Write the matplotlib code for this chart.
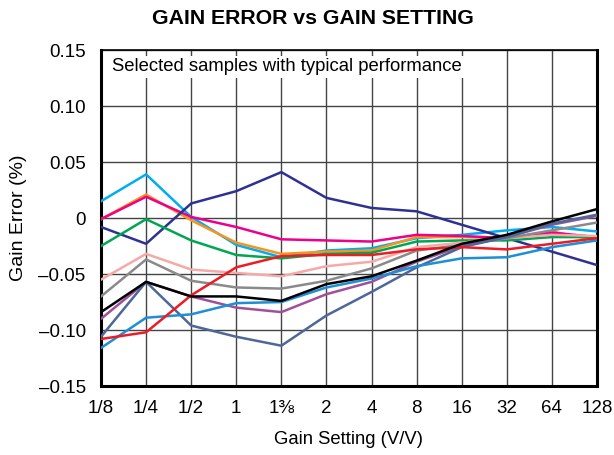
import matplotlib.pyplot as plt
import numpy as np

gains = ['1/8', '1/4', '1/2', '1', '1⅜', '2', '4', '8', '16', '32', '64', '128']

# gain error (%) per sample, one value per gain setting
cyan = [0.015, 0.039, 0.001, -0.024, -0.035, -0.029, -0.027, -0.018, -0.015, -0.011, -0.008, -0.012]
orange = [-0.001, 0.021, -0.002, -0.022, -0.032, -0.030, -0.029, -0.017, -0.017, -0.018, -0.012, -0.020]
magenta = [-0.001, 0.019, 0.001, -0.008, -0.019, -0.020, -0.021, -0.015, -0.016, -0.018, -0.013, -0.017]
navy = [-0.008, -0.023, 0.013, 0.024, 0.041, 0.018, 0.009, 0.006, -0.006, -0.018, -0.030, -0.042]
green = [-0.025, -0.001, -0.020, -0.033, -0.036, -0.032, -0.031, -0.021, -0.020, -0.020, -0.017, -0.017]
light_pink = [-0.055, -0.032, -0.046, -0.049, -0.052, -0.043, -0.039, -0.026, -0.022, -0.018, -0.015, -0.016]
gray = [-0.070, -0.037, -0.056, -0.062, -0.063, -0.056, -0.045, -0.029, -0.024, -0.018, -0.011, -0.004]
black = [-0.084, -0.057, -0.070, -0.070, -0.074, -0.059, -0.052, -0.038, -0.023, -0.015, -0.003, 0.008]
purple = [-0.090, -0.057, -0.070, -0.080, -0.084, -0.068, -0.057, -0.039, -0.025, -0.017, -0.006, 0.002]
slate = [-0.106, -0.057, -0.096, -0.106, -0.114, -0.087, -0.066, -0.044, -0.026, -0.017, -0.005, 0.003]
red = [-0.108, -0.102, -0.069, -0.044, -0.034, -0.033, -0.033, -0.028, -0.026, -0.028, -0.023, -0.018]
blue = [-0.116, -0.089, -0.086, -0.076, -0.075, -0.062, -0.054, -0.043, -0.036, -0.035, -0.026, -0.020]

series = [
    (cyan, '#00AEEF'), (orange, '#F7941D'), (magenta, '#EC008C'), (navy, '#2E3192'),
    (green, '#00A651'), (light_pink, '#F7A9A8'), (gray, '#8A8A8A'), (purple, '#A0509A'),
    (slate, '#4D6898'), (blue, '#1C8FD6'), (red, '#ED1C24'), (black, '#000000'),
]

plt.rcParams['font.family'] = ['Liberation Sans', 'DejaVu Sans']

fig = plt.figure(figsize=(6.14, 4.55), dpi=100)
ax = fig.add_axes([0.1645, 0.1516, 0.8078, 0.7384])

x = np.arange(len(gains))
for vals, col in series:
    ax.plot(x, vals, color=col, linewidth=1.8, zorder=3)

ax.set_xlim(0, len(gains) - 1)
ax.set_ylim(-0.15, 0.15)
ax.set_xticks(x)
ax.set_xticklabels(gains)
yt = [0.15, 0.10, 0.05, 0, -0.05, -0.10, -0.15]
ax.set_yticks(yt)
ax.set_yticklabels(['0.15', '0.10', '0.05', '0', '–0.05', '–0.10', '–0.15'])
ax.tick_params(axis='y', length=0, labelsize=13.5, pad=11)
ax.tick_params(axis='x', length=0, labelsize=13.5, pad=10)

ax.grid(True, color='#444444', linewidth=1.0, zorder=1)
ax.set_axisbelow(True)
for s in ['left', 'bottom', 'right']:
    ax.spines[s].set_linewidth(2.2)
ax.spines['top'].set_linewidth(1.2)

ax.text(0.022, 0.95, 'Selected samples with typical performance', transform=ax.transAxes,
        fontsize=13.3, va='center', ha='left', zorder=4,
        bbox=dict(facecolor='white', edgecolor='none', pad=2))

ax.set_xlabel('Gain Setting (V/V)', fontsize=13.3, labelpad=10)
ax.set_ylabel('Gain Error (%)', fontsize=14, labelpad=8)
fig.suptitle('GAIN ERROR vs GAIN SETTING', fontsize=15.3, fontweight='bold', x=0.51, y=0.98)

plt.savefig('out.png', dpi=100)
